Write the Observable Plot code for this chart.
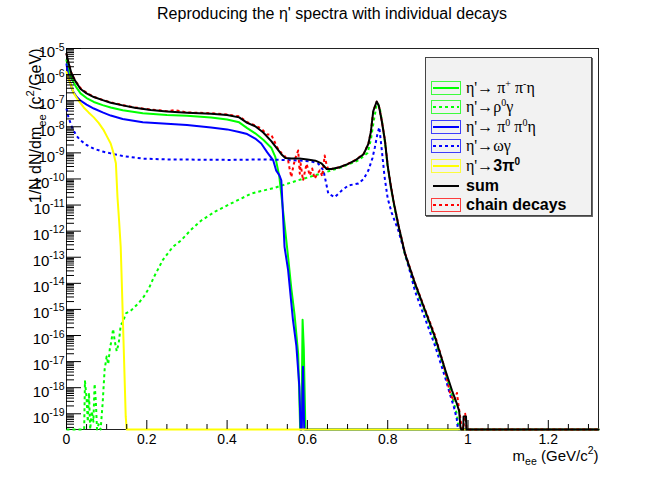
<!DOCTYPE html>
<html><head><meta charset="utf-8">
<script src="https://cdn.jsdelivr.net/npm/d3@7"></script>
<script src="https://cdn.jsdelivr.net/npm/@observablehq/plot@0.6"></script>
<style>
body{margin:0;background:#fff;font-family:"Liberation Sans",Arial,sans-serif;}
#wrap{position:relative;width:664px;height:478px;overflow:hidden;}
#chart{position:absolute;left:0;top:0;}
#title{position:absolute;left:0;top:0;width:664px;text-align:center;font-size:16px;line-height:16px;padding-top:6px;color:#000;}
#legend{position:absolute;left:425px;top:57px;width:165px;height:157px;background:#f2f2f2;border:1px solid #444;box-shadow:1px 1px 0 #666;}
.row{position:absolute;left:5px;height:14px;display:flex;align-items:center;white-space:nowrap;}
.row svg{margin-right:5px;flex:none;}
.lab{font-size:16px;line-height:14px;color:#000;}
.g{font-family:"Liberation Serif","DejaVu Serif",serif;}
.lab b{font-family:"Liberation Sans",Arial,sans-serif;font-weight:bold;}
.lab sup{font-size:10px;line-height:0;vertical-align:6px;}
</style></head><body>
<div id="wrap"><div id="chart"></div><div id="title">Reproducing the η' spectra with individual decays</div><div id="legend"></div></div>
<script>
// empty histogram bins: drawn on the lower edge of the frame
const ZERO = 1e-21;

const xMajor = [0, 0.2, 0.4, 0.6, 0.8, 1.0, 1.2];
const xMajorLabels = ["0", "0.2", "0.4", "0.6", "0.8", "1", "1.2"];
const xMinor = [0.05,0.1,0.15,0.25,0.3,0.35,0.45,0.5,0.55,0.65,0.7,0.75,0.85,0.9,0.95,1.05,1.1,1.15,1.25,1.3];
const yExponents = [-5,-6,-7,-8,-9,-10,-11,-12,-13,-14,-15,-16,-17,-18,-19];

// eta' -> pi+ pi- eta  (green solid)
const pipiEta = [[0,3.55e-6],[0.005,1.58e-6],[0.015,5.89e-7],[0.025,3.16e-7],[0.035,1.91e-7],[0.05,1.26e-7],[0.068,8.91e-8],[0.09,6.76e-8],[0.11,5.50e-8],[0.14,4.27e-8],[0.19,3.31e-8],[0.25,2.82e-8],[0.30,2.63e-8],[0.36,2.29e-8],[0.40,1.91e-8],[0.43,1.48e-8],[0.45,8.91e-9],[0.47,5.62e-9],[0.49,3.16e-9],[0.51,1.58e-9],[0.52,7.08e-10],[0.53,1.26e-10],[0.54,5.01e-12],[0.552,1.0e-13],[0.56,6.31e-15],[0.568,6.31e-16],[0.577,2.0e-17],[0.582,ZERO],[0.585,ZERO],[0.588,3.98e-16],[0.591,3.16e-17],[0.595,ZERO],[1.325,ZERO]];

// eta' -> rho0 gamma  (green dotted)
const rhoGamma = [[0,ZERO],[0.044,ZERO],[0.046,1.78e-18],[0.05,3.98e-19],[0.053,5.01e-20],[0.056,6.31e-19],[0.059,ZERO],[0.063,1.26e-19],[0.067,5.01e-20],[0.07,1.41e-18],[0.073,3.16e-19],[0.076,ZERO],[0.08,3.98e-20],[0.085,ZERO],[0.09,2.51e-19],[0.095,5.01e-18],[0.1,1.58e-17],[0.104,7.94e-18],[0.108,3.16e-17],[0.112,6.31e-17],[0.116,1.78e-16],[0.12,6.31e-17],[0.125,2.51e-17],[0.13,5.01e-17],[0.135,2.51e-16],[0.14,3.16e-16],[0.148,7.08e-16],[0.16,8.91e-16],[0.17,1.26e-15],[0.18,1.78e-15],[0.193,3.16e-15],[0.205,6.31e-15],[0.218,1.78e-14],[0.23,3.98e-14],[0.24,7.94e-14],[0.252,1.38e-13],[0.265,2.51e-13],[0.285,4.37e-13],[0.31,1.12e-12],[0.335,2.51e-12],[0.37,5.62e-12],[0.41,1.15e-11],[0.46,2.75e-11],[0.52,4.68e-11],[0.577,8.91e-11],[0.643,1.78e-10],[0.685,2.82e-10],[0.727,5.13e-10],[0.75,1.0e-9],[0.758,3.16e-9],[0.765,1.58e-8],[0.772,6.31e-8],[0.776,7.94e-8],[0.781,4.47e-8],[0.787,1.26e-8],[0.794,2.0e-9],[0.8,2.82e-10],[0.808,4.47e-11],[0.815,1.12e-11],[0.827,1.41e-12],[0.843,1.26e-13],[0.868,7.94e-15],[0.893,7.94e-16],[0.918,6.31e-17],[0.943,3.98e-18],[0.96,5.01e-19],[0.972,1.0e-19],[0.977,ZERO],[1.325,ZERO]];

// eta' -> pi0 pi0 eta  (blue solid)
const pi0pi0Eta = [[0,2.51e-6],[0.005,7.94e-7],[0.015,2.45e-7],[0.025,1.41e-7],[0.035,1.0e-7],[0.05,7.08e-8],[0.068,5.01e-8],[0.09,3.55e-8],[0.11,2.69e-8],[0.14,2.0e-8],[0.19,1.48e-8],[0.25,1.32e-8],[0.30,1.17e-8],[0.36,9.33e-9],[0.40,7.94e-9],[0.43,6.31e-9],[0.45,5.25e-9],[0.47,3.55e-9],[0.485,2.29e-9],[0.50,1.05e-9],[0.515,5.13e-10],[0.522,2.14e-10],[0.53,1.41e-10],[0.535,8.91e-11],[0.539,5.01e-12],[0.543,2.51e-13],[0.552,3.16e-14],[0.564,3.98e-16],[0.5725,3.98e-17],[0.58,1.07e-18],[0.583,ZERO],[0.586,ZERO],[0.589,6.31e-18],[0.592,ZERO],[1.325,ZERO]];

// eta' -> omega gamma  (blue dotted)
const omegaGamma = [[0,5.01e-8],[0.005,2.24e-8],[0.015,8.51e-9],[0.025,4.47e-9],[0.035,3.02e-9],[0.05,2.0e-9],[0.068,1.45e-9],[0.09,1.12e-9],[0.11,9.55e-10],[0.14,7.59e-10],[0.19,6.03e-10],[0.25,5.62e-10],[0.32,5.50e-10],[0.41,5.37e-10],[0.49,5.62e-10],[0.577,5.13e-10],[0.61,4.68e-10],[0.627,3.89e-10],[0.64,2.14e-10],[0.652,2.75e-11],[0.668,2.0e-11],[0.685,3.55e-11],[0.702,5.62e-11],[0.727,6.76e-11],[0.74,1.0e-10],[0.752,2.14e-10],[0.762,6.31e-10],[0.768,1.62e-9],[0.774,5.01e-9],[0.779,9.55e-9],[0.785,1.41e-9],[0.792,1.26e-10],[0.8,1.78e-11],[0.81,5.01e-12],[0.827,1.0e-12],[0.852,4.47e-14],[0.868,5.01e-15],[0.893,4.47e-16],[0.918,3.98e-17],[0.943,2.51e-18],[0.955,5.62e-19],[0.965,1.78e-19],[0.972,6.31e-20],[0.975,ZERO],[1.325,ZERO]];

// eta' -> 3 pi0  (yellow)
const threePi0 = [[0,1.26e-6],[0.005,7.08e-7],[0.018,1.91e-7],[0.03,1.0e-7],[0.043,5.50e-8],[0.055,3.55e-8],[0.068,2.29e-8],[0.08,1.41e-8],[0.093,7.24e-9],[0.1,4.47e-9],[0.11,2.29e-9],[0.117,1.0e-9],[0.123,3.98e-10],[0.127,2.0e-11],[0.131,2.51e-12],[0.135,2.51e-13],[0.137,2.51e-14],[0.142,6.31e-17],[0.1475,7.94e-20],[0.15,ZERO],[1.325,ZERO]];

// sum  (black)
const sumAll = [[0,6.31e-6],[0.005,2.82e-6],[0.012,1.15e-6],[0.022,5.62e-7],[0.035,2.82e-7],[0.05,1.91e-7],[0.068,1.38e-7],[0.09,1.05e-7],[0.11,8.32e-8],[0.14,6.61e-8],[0.17,5.37e-8],[0.21,4.37e-8],[0.25,3.89e-8],[0.30,3.47e-8],[0.36,3.16e-8],[0.40,2.82e-8],[0.43,2.29e-8],[0.45,1.41e-8],[0.47,1.05e-8],[0.49,6.03e-9],[0.51,2.82e-9],[0.525,1.41e-9],[0.535,8.91e-10],[0.545,6.31e-10],[0.56,6.03e-10],[0.58,6.03e-10],[0.60,5.62e-10],[0.62,5.01e-10],[0.635,3.98e-10],[0.648,2.40e-10],[0.66,2.40e-10],[0.68,2.82e-10],[0.70,3.72e-10],[0.72,5.25e-10],[0.74,8.91e-10],[0.752,2.24e-9],[0.758,6.31e-9],[0.764,3.98e-8],[0.7725,9.33e-8],[0.778,6.31e-8],[0.785,1.74e-8],[0.793,3.02e-9],[0.8,3.16e-10],[0.808,5.01e-11],[0.815,1.26e-11],[0.827,1.58e-12],[0.843,1.38e-13],[0.868,1.0e-14],[0.893,9.12e-16],[0.918,8.51e-17],[0.943,5.01e-18],[0.96,7.94e-19],[0.972,2.51e-19],[0.978,1.26e-19],[0.981,3.16e-20],[0.983,ZERO],[0.988,ZERO],[0.989,7.94e-20],[0.995,7.94e-20],[0.996,ZERO],[1.325,ZERO]];

// chain decays  (red dotted)
const chainDecays = [[0,6.31e-6],[0.005,2.82e-6],[0.012,1.17e-6],[0.022,5.75e-7],[0.035,3.02e-7],[0.05,2.0e-7],[0.068,1.41e-7],[0.09,1.07e-7],[0.11,8.71e-8],[0.14,6.76e-8],[0.17,5.50e-8],[0.21,4.57e-8],[0.25,3.98e-8],[0.27,4.37e-8],[0.30,3.55e-8],[0.36,3.31e-8],[0.40,2.95e-8],[0.43,2.51e-8],[0.45,1.51e-8],[0.47,1.12e-8],[0.485,8.51e-9],[0.50,5.01e-9],[0.51,5.01e-9],[0.525,1.58e-9],[0.535,1.0e-9],[0.545,7.08e-10],[0.552,5.13e-10],[0.555,2.82e-10],[0.56,1.17e-10],[0.565,3.16e-10],[0.57,6.31e-10],[0.577,1.23e-9],[0.581,1.58e-10],[0.583,3.98e-10],[0.589,8.71e-11],[0.598,3.80e-10],[0.606,1.35e-10],[0.612,2.51e-10],[0.618,1.02e-10],[0.625,1.58e-10],[0.631,2.14e-10],[0.637,1.26e-10],[0.643,7.94e-10],[0.648,3.31e-10],[0.653,2.14e-10],[0.66,2.40e-10],[0.68,2.82e-10],[0.70,3.72e-10],[0.72,5.37e-10],[0.74,9.12e-10],[0.752,2.29e-9],[0.758,6.31e-9],[0.764,3.98e-8],[0.7725,9.12e-8],[0.778,6.31e-8],[0.785,1.82e-8],[0.793,3.16e-9],[0.8,3.31e-10],[0.808,5.25e-11],[0.815,1.32e-11],[0.827,1.66e-12],[0.843,1.45e-13],[0.868,1.05e-14],[0.893,1.0e-15],[0.918,1.0e-16],[0.939,7.94e-18],[0.948,2.0e-18],[0.956,5.62e-19],[0.965,3.16e-19],[0.9725,6.31e-19],[0.977,1.78e-19],[0.983,3.98e-20],[0.988,2.51e-20],[0.993,1.0e-19],[0.997,ZERO],[1.325,ZERO]];

const series = [
  {data: pipiEta, color: "#00ff00", dash: null},
  {data: rhoGamma, color: "#00ff00", dash: "3,3"},
  {data: pi0pi0Eta, color: "#0000ff", dash: null},
  {data: omegaGamma, color: "#0000ff", dash: "3,3"},
  {data: threePi0, color: "#ffff00", dash: null},
  {data: chainDecays, color: "#ff0000", dash: "3,3"},
  {data: sumAll, color: "#000000", dash: null}
];

const legendLabels = [
  `<span class="g">η'→ π<sup>+</sup> π<sup>-</sup>η</span>`,
  `<span class="g">η'→ρ<sup>0</sup>γ</span>`,
  `<span class="g">η'→ π<sup>0</sup> π<sup>0</sup>η</span>`,
  `<span class="g">η'→ωγ</span>`,
  `<span class="g">η'→</span><b>3π<sup>0</sup></b>`,
  `<b>sum</b>`,
  `<b>chain decays</b>`
];
const legendStyle = [
  {color: "#00ff00", dash: null, box: true},
  {color: "#00ff00", dash: "3,3", box: true},
  {color: "#0000ff", dash: null, box: true},
  {color: "#0000ff", dash: "3,3", box: true},
  {color: "#ffff00", dash: null, box: true},
  {color: "#000000", dash: null, box: false},
  {color: "#ff0000", dash: "3,3", box: true}
];

const yMinor = [];
for (let e = -20; e <= -6; e++) for (let k = 2; k <= 9; k++) {
  const v = Number(`${k}e${e}`);
  if (v >= 2.5e-20 && v <= 1e-5) yMinor.push(v);
}
const yMajor = yExponents.map(e => Number(`1e${e}`));

const Y_TITLE = "1/N dN/dm_ee (c^2/GeV)";
const X_TITLE = "m_ee (GeV/c^2)";

const chart = Plot.plot({
  width: 664, height: 478,
  marginLeft: 66, marginRight: 66, marginTop: 48, marginBottom: 49,
  style: {fontFamily: "'Liberation Sans', Arial, sans-serif", background: "white", overflow: "visible", color: "#000"},
  x: {domain: [0, 1.325]},
  y: {type: "log", domain: [2.5e-20, 1e-5], clamp: true},
  marks: [
    Plot.frame({stroke: "#222", strokeWidth: 1}),
    ...series.map(s => Plot.line(s.data, {
      x: d => d[0], y: d => d[1], stroke: s.color, strokeWidth: 2,
      strokeDasharray: s.dash, strokeLinecap: s.dash ? "butt" : "round", strokeLinejoin: "round"
    })),
    Plot.axisX({ticks: xMajor, tickSize: -9, tickFormat: () => "", label: null}),
    Plot.axisX({ticks: xMinor, tickSize: -5, tickFormat: () => "", label: null}),
    Plot.axisX({ticks: xMajor, tickSize: 0, tickPadding: 5, fontSize: 14, tickFormat: d => xMajorLabels[xMajor.indexOf(d)], label: null}),
    Plot.axisY({ticks: yMajor, tickSize: -15, tickFormat: () => "", label: null}),
    Plot.axisY({ticks: yMinor, tickSize: -8, tickFormat: () => "", label: null}),
    Plot.axisY({ticks: yMajor, tickSize: 0, tickPadding: 2, dy: 4, fontSize: 15,
      tickFormat: d => "10^" + Math.round(Math.log10(d)), label: null}),
    Plot.text([Y_TITLE], {frameAnchor: "top-left", text: d => d, rotate: -90, textAnchor: "end", dx: -37, dy: 0, fontSize: 16}),
    Plot.text([X_TITLE], {frameAnchor: "bottom-right", text: d => d, textAnchor: "end", dx: 0, dy: 31, fontSize: 15})
  ]
});
document.getElementById("chart").appendChild(chart);

function rich(el, parts, size) {
  el.textContent = "";
  let shift = 0;
  for (const [s, k] of parts) {
    const t = document.createElementNS("http://www.w3.org/2000/svg", "tspan");
    const target = k === "sup" ? -0.45 * size : k === "sub" ? 0.3 * size : 0;
    t.setAttribute("dy", target - shift);
    shift = target;
    if (k !== "n") t.setAttribute("font-size", 0.7 * size);
    t.textContent = s;
    el.appendChild(t);
  }
}
chart.querySelectorAll("text").forEach(el => {
  const s = el.textContent;
  if (/^10\^-?\d+$/.test(s)) rich(el, [["10", "n"], [s.slice(3), "sup"]], 15);
  else if (s === Y_TITLE) rich(el, [["1/N dN/dm", "n"], ["ee", "sub"], [" (c", "n"], ["2", "sup"], ["/GeV)", "n"]], 16);
  else if (s === X_TITLE) rich(el, [["m", "n"], ["ee", "sub"], [" (GeV/c", "n"], ["2", "sup"], [")", "n"]], 15);
});

const centers = [29.5, 49.1, 68.7, 88.3, 107.9, 127.5, 147.1];
const legend = document.getElementById("legend");
legendLabels.forEach((lab, i) => {
  const st = legendStyle[i];
  const row = document.createElement("div");
  row.className = "row";
  row.style.top = (centers[i] - 7) + "px";
  const box = st.box ? `<rect x="0.5" y="0.5" width="29" height="13" fill="none" stroke="${st.color}" stroke-opacity="0.75"/>` : "";
  row.innerHTML = `<svg width="30" height="14">${box}<line x1="2" x2="28" y1="7" y2="7" stroke="${st.color}" stroke-width="2" ${st.dash ? `stroke-dasharray="${st.dash}"` : ""}/></svg><span class="lab">${lab}</span>`;
  legend.appendChild(row);
});
</script>
</body></html>
